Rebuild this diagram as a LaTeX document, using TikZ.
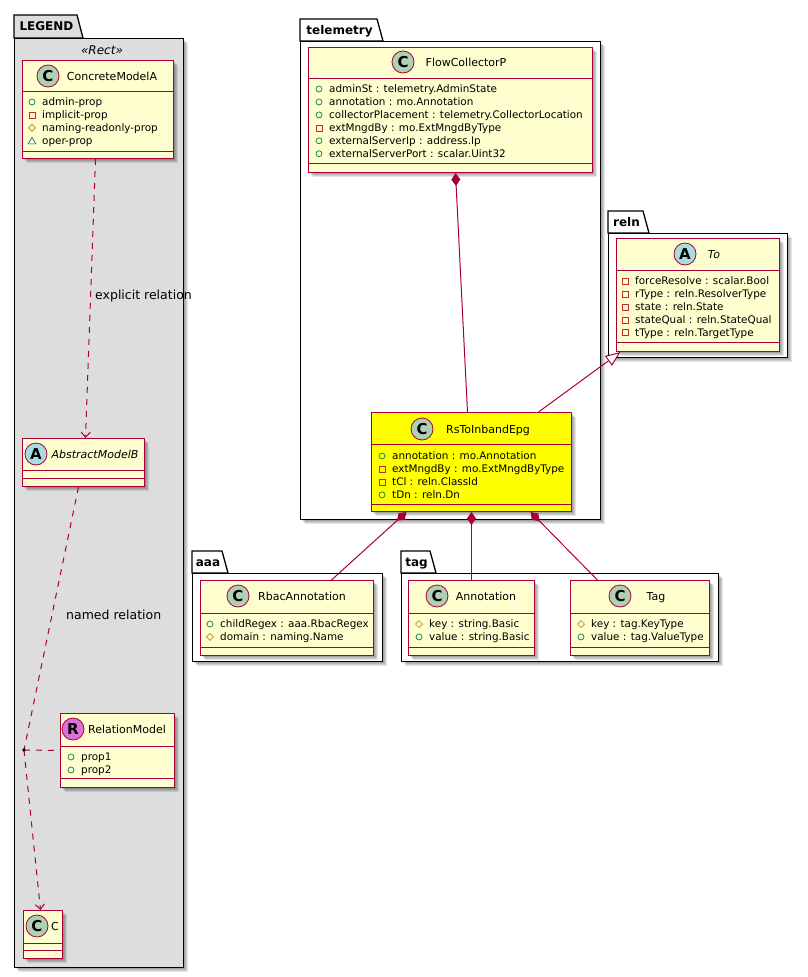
\documentclass[tikz,border=0pt]{standalone}
\usepackage{fontspec}
\setmainfont{DejaVu Sans}
\usetikzlibrary{arrows.meta}
\definecolor{umlborder}{HTML}{A80036}
\definecolor{umlfill}{HTML}{FEFECE}
\definecolor{rsyellow}{HTML}{FFFF00}
\definecolor{spotC}{HTML}{ADD1B2}
\definecolor{spotA}{HTML}{A9DCDF}
\definecolor{spotR}{HTML}{DA70D6}
\definecolor{legendgray}{HTML}{DDDDDD}
\definecolor{vpubc}{HTML}{038048}
\definecolor{vprivc}{HTML}{C82930}
\definecolor{vprotc}{HTML}{B38D22}
\definecolor{vpkgc}{HTML}{1963A0}

\newcommand{\umlbox}[8]{%
  \foreach \s in {2,3,4,5} {\fill[black,opacity=0.1] ({#2+\s},{#3+\s}) rectangle ({#4+\s},{#5+\s});}
  \node[classbox, fill=#8, minimum width={(#4-#2)*1pt}, minimum height={(#5-#3)*1pt}, anchor=north west] (#1) at (#2,#3) {};
  \draw[classline] (#2,#6) -- (#4,#6) (#2,#7) -- (#4,#7);
}
\newcommand{\umlpkg}[9]{%
  \foreach \s in {2,3,4,5} {\fill[black,opacity=0.1] ({#2+\s},{#5+\s}) rectangle ({#6+\s},{#7+\s});}
  \filldraw[pkgline, fill=#8] (#2,#5) -- (#2,#3) -- (#4,#3) -- ({#4+6},#5) -- cycle;
  \node[pkgbox, fill=#8, minimum width={(#6-#2)*1pt}, minimum height={(#7-#5)*1pt}, anchor=north west] (#1) at (#2,#5) {};
  \node[pkgtitle] (#1-title) at ({(#2+#4)/2+1},{(#3+#5)/2+4.3}) {#9};
}
\newcommand{\vispub}[2]{\draw[vpubc, line width=0.7pt] (#1,#2) circle (3);}
\newcommand{\vispriv}[2]{\draw[vprivc, line width=0.7pt] ({#1-3},{#2-3}) rectangle ({#1+3},{#2+3});}
\newcommand{\visprot}[2]{\draw[vprotc, line width=0.7pt] (#1,{#2-3.5}) -- ({#1+3.5},#2) -- (#1,{#2+3.5}) -- ({#1-3.5},#2) -- cycle;}
\newcommand{\vispkg}[2]{\draw[vpkgc, line width=0.7pt] (#1,{#2-3.5}) -- ({#1+3.8},{#2+3}) -- ({#1-3.8},{#2+3}) -- cycle;}
\newcommand{\attrs}[4]{%
  \foreach \vt/\tx [count=\i] in {#4} {
    \pgfmathsetmacro\yy{#3+(\i-1)*12.95}
    \csname vis\vt\endcsname{#2}{\yy}
    \node[attrtext, anchor=base west] (#1-\i) at ({#2+10},{\yy+3.8}) {\tx};
  }
}

\begin{document}
\begin{tikzpicture}[x=1pt,y=-1pt,
  classbox/.style={draw=umlborder, line width=1pt, rectangle, inner sep=0pt},
  classline/.style={draw=umlborder, line width=1pt},
  pkgline/.style={draw=black, line width=1.3pt},
  pkgbox/.style={pkgline, rectangle, inner sep=0pt},
  pkgtitle/.style={font=\fontsize{12}{14}\selectfont\bfseries, inner sep=0pt, anchor=base},
  attrtext/.style={font=\fontsize{10.4}{12}\selectfont, inner sep=0pt},
  nametext/.style={font=\fontsize{11}{13}\selectfont, inner sep=0pt, anchor=base},
  spotcircle/.style={circle, draw=umlborder, line width=0.8pt, minimum size=22pt, inner sep=0pt, font=\fontsize{15}{15}\selectfont\bfseries},
  rel/.style={draw=umlborder, line width=1pt},
  dashedrel/.style={rel, dash pattern=on 6pt off 6pt},
  comp/.style={rel, {Diamond[length=13pt,width=9pt,fill=umlborder]}-},
  gen/.style={rel, -{Triangle[open,length=15pt,width=12pt,fill=white]}},
  dep/.style={dashedrel, -{Straight Barb[length=5pt,width=9pt]}},
  lbl/.style={font=\fontsize{12.5}{14}\selectfont, inner sep=0pt},
  stereo/.style={font=\fontsize{12}{14}\selectfont\itshape, inner sep=0pt}
]
\useasboundingbox (0,0) rectangle (807,977);
\fill[white] (0,0) rectangle (807,977);

% packages
\umlpkg{legend}{14}{15}{77}{38}{183}{967}{legendgray}{LEGEND}
\umlpkg{telemetry}{300}{19}{377}{41}{600}{519}{white}{telemetry}
\umlpkg{reln}{608}{211}{643}{233}{787}{357}{white}{reln}
\umlpkg{aaa}{192}{551}{222}{573}{382}{661}{white}{aaa}
\umlpkg{tag}{401}{551}{430}{573}{718}{661}{white}{tag}

\node[stereo] (stereo) at (102,50) {«Rect»};

% classes
\umlbox{cma}{22}{60}{173}{158}{91}{151}{umlfill}
\umlbox{abm}{22}{438}{144}{486}{470}{478}{umlfill}
\umlbox{rm}{60}{713}{174}{787}{746}{778}{umlfill}
\umlbox{cc}{23}{910}{62}{958}{943}{950}{umlfill}
\umlbox{fcp}{308}{47}{592}{172}{78}{163}{umlfill}
\umlbox{to}{616}{238}{779}{351}{270}{342}{umlfill}
\umlbox{rs}{371}{412}{571}{511}{444}{504}{rsyellow}
\umlbox{rbac}{200}{580}{373}{655}{613}{647}{umlfill}
\umlbox{ann}{408}{580}{534}{655}{613}{647}{umlfill}
\umlbox{tagc}{570}{580}{709}{655}{613}{647}{umlfill}

% spots
\node[spotcircle, fill=spotC] (cma-spot) at (48,76) {C};
\node[spotcircle, fill=spotA] (abm-spot) at (36,454) {A};
\node[spotcircle, fill=spotR] (rm-spot) at (73,729) {R};
\node[spotcircle, fill=spotC] (cc-spot) at (37,926) {C};
\node[spotcircle, fill=spotC] (fcp-spot) at (403,62) {C};
\node[spotcircle, fill=spotA] (to-spot) at (685,254) {A};
\node[spotcircle, fill=spotC] (rs-spot) at (422,429) {C};
\node[spotcircle, fill=spotC] (rbac-spot) at (238,596) {C};
\node[spotcircle, fill=spotC] (ann-spot) at (437,596) {C};
\node[spotcircle, fill=spotC] (tagc-spot) at (620,596) {C};

% names
\node[nametext] (cma-name) at (112,80) {ConcreteModelA};
\node[nametext, font=\fontsize{11}{13}\selectfont\itshape] (abm-name) at (95,458) {AbstractModelB};
\node[nametext] (rm-name) at (127,733) {RelationModel};
\node[nametext] (cc-name) at (55,930) {C};
\node[nametext] (fcp-name) at (466,66) {FlowCollectorP};
\node[nametext, font=\fontsize{11}{13}\selectfont\itshape] (to-name) at (714,258) {To};
\node[nametext] (rs-name) at (488,433) {RsToInbandEpg};
\node[nametext] (rbac-name) at (302,600) {RbacAnnotation};
\node[nametext] (ann-name) at (486,600) {Annotation};
\node[nametext] (tagc-name) at (656,600) {Tag};

% attributes
\attrs{cma-a}{32}{102}{pub/admin-prop, priv/implicit-prop, prot/naming-readonly-prop, pkg/oper-prop}
\attrs{rm-a}{71}{757}{pub/prop1, pub/prop2}
\attrs{fcp-a}{319}{89}{pub/adminSt : telemetry.AdminState, pub/annotation : mo.Annotation, pub/collectorPlacement : telemetry.CollectorLocation, priv/extMngdBy : mo.ExtMngdByType, pub/externalServerIp : address.Ip, pub/externalServerPort : scalar.Uint32}
\attrs{to-a}{625}{281}{priv/forceResolve : scalar.Bool, priv/rType : reln.ResolverType, priv/state : reln.State, priv/stateQual : reln.StateQual, priv/tType : reln.TargetType}
\attrs{rs-a}{382}{456}{pub/annotation : mo.Annotation, priv/extMngdBy : mo.ExtMngdByType, priv/tCl : reln.ClassId, pub/tDn : reln.Dn}
\attrs{rbac-a}{210}{624}{pub/childRegex : aaa.RbacRegex, prot/domain : naming.Name}
\attrs{ann-a}{419}{624}{prot/key : string.Basic, pub/value : string.Basic}
\attrs{tagc-a}{581}{624}{prot/key : tag.KeyType, pub/value : tag.ValueType}

% connectors
\draw[comp] ([xshift=5pt]fcp.south) -- ([xshift=-4pt]rs.north);
\draw[gen] ([xshift=67pt]rs.north) -- ([xshift=-77.5pt]to.south);
\draw[comp] ([xshift=-65pt]rs.south) -- ([xshift=44.5pt]rbac.north);
\draw[comp] (rs.south) -- (ann.north);
\draw[comp] ([xshift=59pt]rs.south) -- ([xshift=-42.5pt]tagc.north);
\draw[dep] ([xshift=-2.5pt]cma.south) -- ([xshift=2pt]abm.north);
\coordinate (jn) at (24,750);
\draw[dashedrel] ([xshift=-5pt]abm.south) -- (jn);
\draw[dep] (jn) -- ([xshift=-2.5pt]cc.north);
\draw[dashedrel] (jn) -- (rm.west);
\fill (jn) circle (1.8);

\node[lbl, anchor=west] (lbl1) at (95,296) {explicit relation};
\node[lbl, anchor=west] (lbl2) at (66,615) {named relation};
\end{tikzpicture}
\end{document}
